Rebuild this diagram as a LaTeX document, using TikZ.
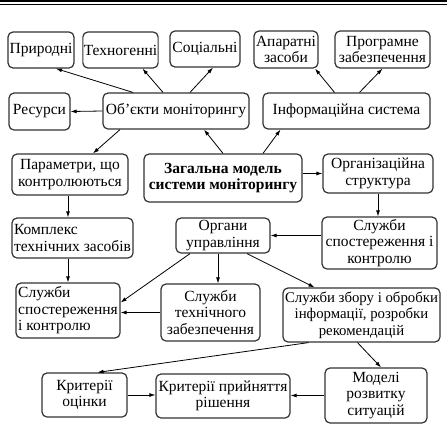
\documentclass[tikz,border=0pt]{standalone}
\usepackage{fontspec}
\setmainfont{Liberation Serif}
\usepackage{xcolor}
\usetikzlibrary{arrows.meta, calc}
\definecolor{boxgray}{RGB}{50, 50, 50}
\tikzset{
  box/.style={draw=boxgray, line width=1.2pt, rounded corners=5pt, align=center, inner sep=1pt, font=\rmfamily\fontsize{15.5}{16.5}\selectfont},
  arr/.style={-{Latex[length=6pt, width=4pt]}, line width=0.8pt}
}

\begin{document}
\begin{tikzpicture}[x=1pt, y=-1pt]
  \useasboundingbox (0,0) rectangle (447,426);
  % double rule on top
  \draw[line width=2pt] (0,1) -- (447,1);
  \draw[line width=0.8pt] (0,4) -- (447,4);
  % upper row
  \node[box, minimum width=66pt, minimum height=36pt] (prir) at (41,50) {Природні};
  \node[box, minimum width=75pt, minimum height=36pt] (tech) at (120.5,50) {Техногенні};
  \node[box, minimum width=70pt, minimum height=36pt] (soc) at (205,49) {Соціальні};
  \node[box, minimum width=64pt, minimum height=37pt] (apar) at (286,49.5) {Апаратні\\засоби};
  \node[box, minimum width=95pt, minimum height=37pt] (prog) at (382.5,49.5) {Програмне\\забезпечення};
  \node[box, minimum width=61pt, minimum height=37pt] (res) at (39.5,111.5) {Ресурси};
  \node[box, minimum width=146pt, minimum height=36pt] (obj) at (176,111) {Об’єкти моніторингу};
  \node[box, minimum width=167pt, minimum height=36pt] (info) at (346.5,111) {Інформаційна система};
  % middle
  \node[box, minimum width=116pt, minimum height=41pt] (param) at (70,174.5) {Параметри, що\\контролюються};
  \node[box, minimum width=158pt, minimum height=48pt, font=\rmfamily\fontsize{15.5}{16.5}\selectfont\bfseries] (zag) at (223,178) {Загальна модель\\системи моніторингу};
  \node[box, minimum width=110pt, minimum height=39pt] (org) at (378,173.5) {Організаційна\\структура};
  \node[box, minimum width=121pt, minimum height=40pt, align=left] (kompl) at (72.5,238) {Комплекс\\технічних засобів};
  \node[box, minimum width=94pt, minimum height=35pt] (organy) at (223,235.5) {Органи\\управління};
  \node[box, minimum width=115pt, minimum height=52pt] (sluzhR) at (379.5,243) {Служби\\спостереження і\\контролю};
  % lower
  \node[box, minimum width=104pt, minimum height=55pt, align=left] (sluzhL) at (68,310.5) {Служби\\спостереження\\і контролю};
  \node[box, minimum width=99pt, minimum height=57pt] (tekhn) at (210.5,312.5) {Служби\\технічного\\забезпечення};
  \node[box, minimum width=157pt, minimum height=54pt, inner sep=0pt, font=\rmfamily\fontsize{14.8}{16.5}\selectfont] (zbir) at (361.5,315) {Служби збору і обробки\\інформації, розробки\\рекомендацій};
  \node[box, minimum width=85pt, minimum height=44pt] (krit) at (84.5,395) {Критерії\\оцінки};
  \node[box, minimum width=134pt, minimum height=44pt] (kritp) at (223,396) {Критерії прийняття\\рішення};
  \node[box, minimum width=102pt, minimum height=55pt] (model) at (376,395.5) {Моделі\\розвитку\\ситуацій};
  % connectors
  \draw[arr] ([xshift=-43pt]obj.north) -- ([xshift=15pt]prir.south);
  \draw[arr] ([xshift=-13pt]obj.north) -- ([xshift=22pt]tech.south);
  \draw[arr] ([xshift=14pt]obj.north) -- ([xshift=8pt]soc.south);
  \draw[arr] (obj.west) -- (res.east);
  \draw[arr] ([xshift=-56pt]obj.south) -- ([xshift=23pt]param.north);
  \draw[arr] (zag.north) -- ([xshift=28pt]obj.south);
  \draw[arr] ([xshift=40pt]zag.north) -- ([xshift=-66pt]info.south);
  \draw[arr] ([xshift=-12pt]info.north) -- ([xshift=29pt]apar.south);
  \draw[arr] ([xshift=13pt]info.north) -- (prog.south);
  \draw[arr] (zag.east |- org.west) -- (org.west);
  \draw[arr] ([xshift=-2pt]param.south) -- ([xshift=-2pt]param.south |- kompl.north);
  \draw[arr] (org.south) -- (org.south |- sluzhR.north);
  \draw[arr] (sluzhR.west |- organy.east) -- (organy.east);
  \draw[arr] (sluzhL.north |- kompl.south) -- (sluzhL.north);
  \draw[arr] ([xshift=-33pt]organy.south) -- ([yshift=8pt]sluzhL.east);
  \draw[arr] ([xshift=-5pt]organy.south) -- ([xshift=-5pt]organy.south |- tekhn.north);
  \draw[arr] ([xshift=24pt]organy.south) -- ([xshift=-47pt]zbir.north);
  \draw[arr] (tekhn.west) -- (tekhn.west -| sluzhL.east);
  \draw[arr] ([xshift=-53pt]zbir.south) -- ([xshift=13pt]krit.north);
  \draw[arr] ([xshift=-4pt]zbir.south) -- ([xshift=5pt]model.north);
  \draw[arr] (krit.east) -- (krit.east -| kritp.west);
  \draw[arr] (model.west) -- (model.west -| kritp.east);
\end{tikzpicture}
\end{document}
